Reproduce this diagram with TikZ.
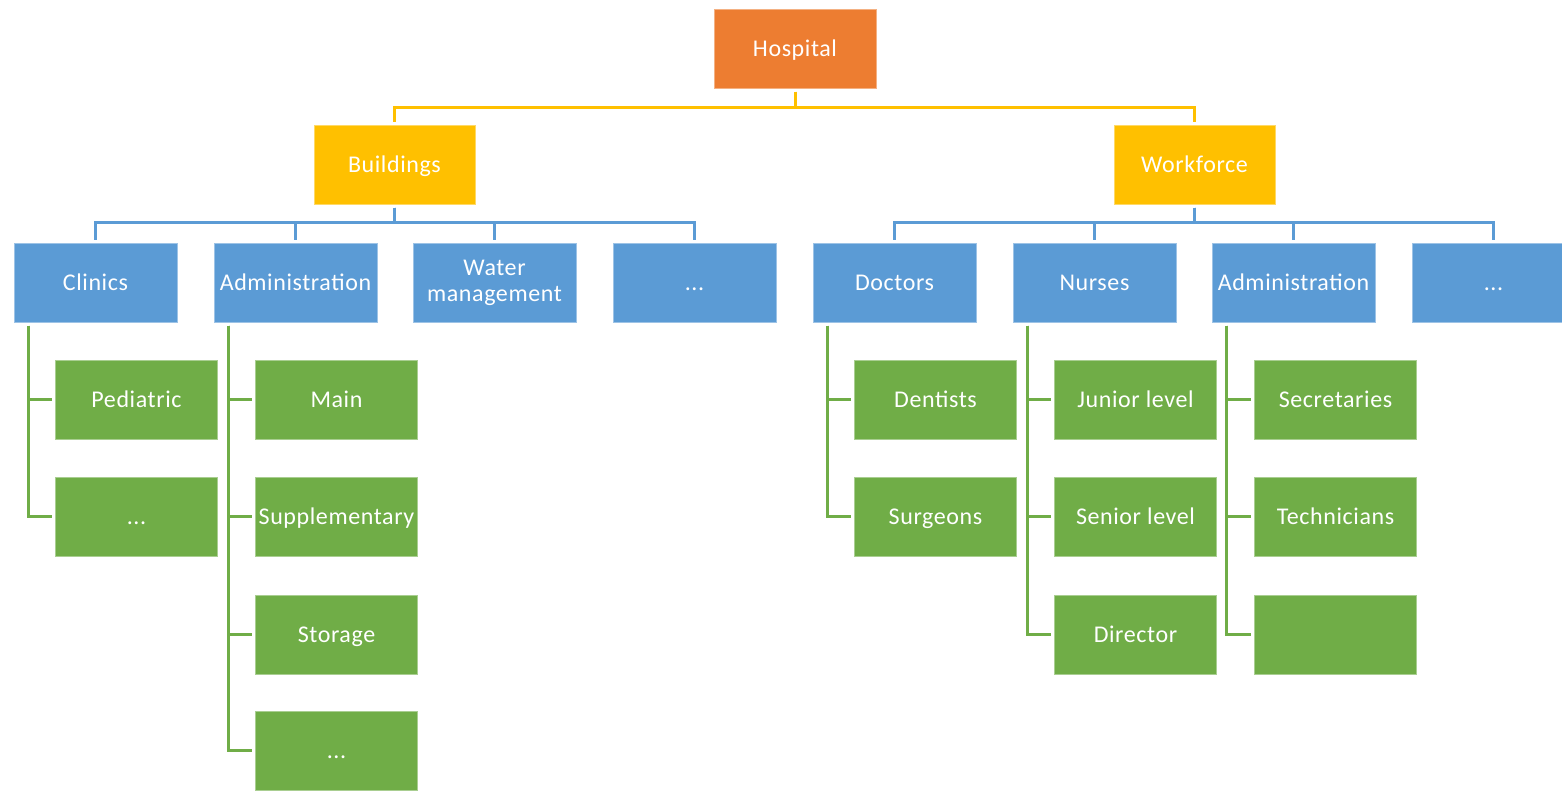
\documentclass[tikz,border=0pt]{standalone}
\usepackage{fontspec}
\setmainfont{Carlito}[LetterSpace=2.5]
\definecolor{cOrange}{HTML}{ED7D31}
\definecolor{cYellow}{HTML}{FFC000}
\definecolor{cBlue}{HTML}{5B9BD5}
\definecolor{cGreen}{HTML}{70AD47}
\tikzset{
  box/.style={rectangle, inner sep=0pt, text=white, line width=1pt,
    font=\fontsize{24}{26}\selectfont, align=center,
    text height=18pt, text depth=3pt},
  twoline/.style={text height=, text depth=},
  top/.style={box, fill=cOrange, draw=cOrange!60!white, minimum width=162pt, minimum height=79pt},
  mid/.style={box, fill=cYellow, draw=cYellow!60!white, minimum width=161pt, minimum height=79pt},
  unit/.style={box, fill=cBlue, draw=cBlue!60!white, minimum width=163pt, minimum height=79pt},
  leaf/.style={box, fill=cGreen, draw=cGreen!60!white, minimum width=162pt, minimum height=79pt},
  ylink/.style={draw=cYellow, line width=3pt, shorten <=3pt, shorten >=3pt},
  blink/.style={draw=cBlue, line width=3pt, shorten <=3pt, shorten >=3pt},
  glink/.style={draw=cGreen, line width=3pt, shorten <=3pt, shorten >=3pt},
}
\begin{document}
\begin{tikzpicture}[x=1pt, y=-1pt]
\useasboundingbox (0,0) rectangle (1562,793);
\begin{scope}
\clip (0,0) rectangle (1562,793);
% root
\node[top] (hosp) at (795,48.5) {Hospital};
% second level
\node[mid] (bld) at (394.5,164.5) {Buildings};
\node[mid] (wrk) at (1194.5,164.5) {Workforce};
% third level
\node[unit] (clin) at (95.5,282.5) {Clinics};
\node[unit] (badm) at (295.5,282.5) {Administration};
\node[unit, twoline] (water) at (494.5,282.5) {Water\\management};
\node[unit] (bmore) at (694.5,282.5) {...};
\node[unit] (doc) at (894.5,282.5) {Doctors};
\node[unit] (nur) at (1094.5,282.5) {Nurses};
\node[unit] (wadm) at (1293.5,282.5) {Administration};
\node[unit] (wmore) at (1493.5,282.5) {...};
% leaves: clinics
\node[leaf] (ped) at (136.5,399.5) {Pediatric};
\node[leaf] (cmore) at (136.5,516.5) {...};
% leaves: building administration
\node[leaf] (main) at (336.5,399.5) {Main};
\node[leaf] (supp) at (336.5,516.5) {Supplementary};
\node[leaf] (stor) at (336.5,634.5) {Storage};
\node[leaf] (amore) at (336.5,750.5) {...};
% leaves: doctors
\node[leaf] (dent) at (935.5,399.5) {Dentists};
\node[leaf] (surg) at (935.5,516.5) {Surgeons};
% leaves: nurses
\node[leaf] (jun) at (1135.5,399.5) {Junior level};
\node[leaf] (sen) at (1135.5,516.5) {Senior level};
\node[leaf] (dir) at (1135.5,634.5) {Director};
% leaves: workforce administration
\node[leaf] (sec) at (1335.5,399.5) {Secretaries};
\node[leaf] (tech) at (1335.5,516.5) {Technicians};
\node[leaf] (wblank) at (1335.5,634.5) {};
\end{scope}
% root to second level
\foreach \c in {bld,wrk}
  \draw[ylink] (hosp.south) -- (hosp.south |- 0,107) -| (\c.north);
% buildings to units
\foreach \c in {clin,badm,water,bmore}
  \draw[blink] (bld.south) -- (bld.south |- 0,222) -| (\c.north);
% workforce to units
\foreach \c in {doc,nur,wadm,wmore}
  \draw[blink] (wrk.south) -- (wrk.south |- 0,222) -| (\c.north);
% units to leaves
\foreach \p/\c in {clin/ped,clin/cmore,badm/main,badm/supp,badm/stor,badm/amore,
                   doc/dent,doc/surg,nur/jun,nur/sen,nur/dir,wadm/sec,wadm/tech,wadm/wblank}
  \draw[glink] ([xshift=15pt]\p.south west) |- (\c.west);
\end{tikzpicture}
\end{document}
